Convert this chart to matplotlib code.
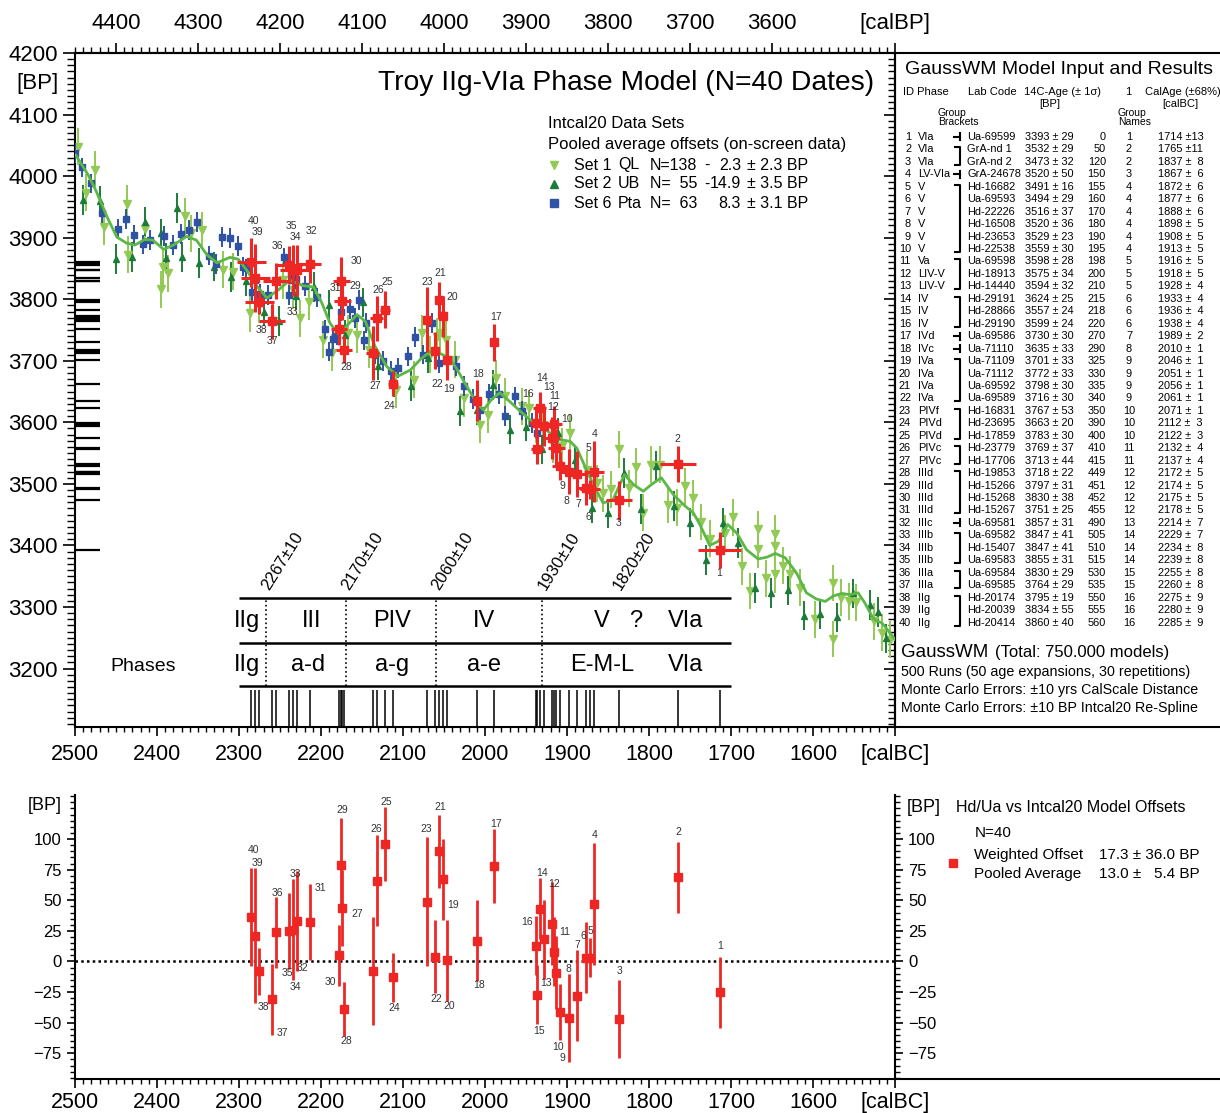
import matplotlib
matplotlib.use("Agg")
import matplotlib.pyplot as plt
from matplotlib.ticker import MultipleLocator, FixedLocator, FuncFormatter, NullFormatter

plt.rcParams['font.family'] = ['Liberation Sans', 'DejaVu Sans']

W, H = 1220, 1113

# ---- 40 Troy dates (table) ----
ids = list(range(1, 41))
phase = ['VIa', 'VIa', 'VIa', 'LV-VIa', 'V', 'V', 'V', 'V', 'V', 'V', 'Va', 'LIV-V', 'LIV-V',
         'IV', 'IV', 'IV', 'IVd', 'IVc', 'IVa', 'IVa', 'IVa', 'IVa', 'PIVf', 'PIVd', 'PIVd',
         'PIVc', 'PIVc', 'IIId', 'IIId', 'IIId', 'IIId', 'IIIc', 'IIIb', 'IIIb', 'IIIb',
         'IIIa', 'IIIa', 'IIg', 'IIg', 'IIg']
lab_code = ['Ua-69599', 'GrA-nd 1', 'GrA-nd 2', 'GrA-24678', 'Hd-16682', 'Ua-69593', 'Hd-22226',
            'Hd-16508', 'Hd-23653', 'Hd-22538', 'Ua-69598', 'Hd-18913', 'Hd-14440', 'Hd-29191',
            'Hd-28866', 'Hd-29190', 'Ua-69586', 'Ua-71110', 'Ua-71109', 'Ua-71112', 'Ua-69592',
            'Ua-69589', 'Hd-16831', 'Hd-23695', 'Hd-17859', 'Hd-23779', 'Hd-17706', 'Hd-19853',
            'Hd-15266', 'Hd-15268', 'Hd-15267', 'Ua-69581', 'Ua-69582', 'Hd-15407', 'Ua-69583',
            'Ua-69584', 'Ua-69585', 'Hd-20174', 'Hd-20039', 'Hd-20414']
c14 = [3393, 3532, 3473, 3520, 3491, 3494, 3516, 3520, 3529, 3559, 3598, 3575, 3594, 3624, 3557,
       3599, 3730, 3635, 3701, 3772, 3798, 3716, 3767, 3663, 3783, 3769, 3713, 3718, 3797, 3830,
       3751, 3857, 3847, 3847, 3855, 3830, 3764, 3795, 3834, 3860]
c14_err = [29, 29, 32, 50, 16, 29, 37, 36, 23, 30, 28, 34, 32, 25, 24, 24, 30, 33, 33, 33, 30, 30,
           53, 20, 30, 37, 44, 22, 31, 38, 25, 31, 41, 41, 31, 29, 29, 19, 55, 40]
dist = [0, 50, 120, 150, 155, 160, 170, 180, 190, 195, 198, 200, 210, 215, 218, 220, 270, 290, 325,
        330, 335, 340, 350, 390, 400, 410, 415, 449, 451, 452, 455, 490, 505, 510, 515, 530, 535,
        550, 555, 560]
group = [1, 2, 2, 3, 4, 4, 4, 4, 4, 4, 5, 5, 5, 6, 6, 6, 7, 8, 9, 9, 9, 9, 10, 10, 10, 11, 11,
         12, 12, 12, 12, 13, 14, 14, 14, 15, 15, 16, 16, 16]
cal = [1714, 1765, 1837, 1867, 1872, 1877, 1888, 1898, 1908, 1913, 1916, 1918, 1928, 1933, 1936,
       1938, 1989, 2010, 2046, 2051, 2056, 2061, 2071, 2112, 2122, 2132, 2137, 2172, 2174, 2175,
       2178, 2214, 2229, 2234, 2239, 2255, 2260, 2275, 2280, 2285]
cal_err = [13, 11, 8, 6, 6, 6, 6, 5, 5, 5, 5, 5, 4, 4, 4, 4, 2, 1, 1, 1, 1, 1, 1, 3, 3, 4, 4, 5,
           5, 5, 5, 7, 7, 8, 8, 8, 8, 9, 9, 9]
# offsets vs Intcal20 model (lower panel)
offset = [-25, 69, -47, 47, 3, 3, -28, -46, -41, -9, 8, 31, 18, 43, -27, 13, 78, 17, 1, 67, 90, 4,
          49, -13, 96, 66, -8, -39, 44, 79, 5, 32, 33, 26, 25, 24, -31, -8, 21, 36]

# ---- Intcal20 data sets ----
ql_cal = [2496, 2487, 2476, 2465, 2436, 2435, 2415, 2395, 2393, 2386, 2366, 2358, 2345, 2319, 2307,
          2287, 2276, 2258, 2246, 2234, 2226, 2215, 2197, 2187, 2167, 2156, 2142, 2108, 2087, 2077,
          2067, 2059, 2055, 2047, 2037, 2026, 2006, 1996, 1986, 1976, 1955, 1946, 1938, 1929, 1917,
          1906, 1896, 1876, 1864, 1856, 1846, 1836, 1825, 1816, 1807, 1797, 1787, 1777, 1766, 1756,
          1746, 1736, 1726, 1707, 1697, 1687, 1677, 1667, 1667, 1657, 1646, 1646, 1646, 1636, 1628,
          1616, 1597, 1576, 1576, 1566, 1556, 1547, 1526, 1516, 1506]
ql_bp = [4048, 3973, 4010, 3918, 3955, 3872, 3914, 3816, 3853, 3842, 3935, 3907, 3912, 3848, 3845,
         3777, 3791, 3764, 3831, 3815, 3769, 3796, 3734, 3713, 3745, 3742, 3718, 3653, 3669, 3745,
         3710, 3739, 3745, 3734, 3702, 3639, 3596, 3612, 3672, 3642, 3626, 3623, 3596, 3596, 3564,
         3561, 3583, 3523, 3501, 3485, 3491, 3556, 3493, 3528, 3453, 3531, 3531, 3466, 3461, 3496,
         3477, 3438, 3411, 3420, 3446, 3366, 3326, 3426, 3394, 3347, 3419, 3399, 3353, 3367, 3353,
         3331, 3280, 3339, 3248, 3315, 3309, 3308, 3277, 3258, 3247]
ql_err = 30

ub_cal = [2490, 2470, 2450, 2430, 2415, 2395, 2389, 2375, 2370, 2349, 2331, 2310, 2291, 2269, 2251,
          2230, 2209, 2190, 2171, 2149, 2130, 2111, 2090, 2070, 2030, 2010, 1990, 1970, 1950, 1930,
          1911, 1890, 1870, 1850, 1830, 1810, 1791, 1770, 1750, 1730, 1710, 1691, 1671, 1651, 1631,
          1611, 1591, 1571, 1551, 1530, 1521, 1511]
ub_bp = [3961, 3960, 3865, 3869, 3926, 3907, 3867, 3948, 3869, 3859, 3853, 3836, 3830, 3780, 3765,
         3806, 3820, 3791, 3742, 3795, 3692, 3665, 3659, 3704, 3618, 3620, 3661, 3588, 3593, 3556,
         3583, 3539, 3461, 3452, 3518, 3459, 3529, 3464, 3437, 3376, 3437, 3404, 3331, 3323, 3327,
         3286, 3288, 3283, 3322, 3303, 3292, 3249]
ub_err = 24

pta_cal = [2500, 2491, 2481, 2467, 2448, 2438, 2428, 2417, 2408, 2391, 2381, 2371, 2361, 2351, 2337,
           2328, 2321, 2311, 2301, 2295, 2291, 2284, 2280, 2274, 2265, 2245, 2239, 2236, 2230, 2220,
           2205, 2195, 2190, 2185, 2180, 2175, 2165, 2159, 2154, 2148, 2145, 2134, 2124, 2115, 2106,
           2094, 2085, 2075, 2065, 2056, 2045, 2035, 2025, 2015, 2006, 1995, 1983, 1975, 1964, 1955,
           1943, 1936]
pta_bp = [4037, 4014, 3988, 3940, 3914, 3930, 3905, 3889, 3896, 3903, 3888, 3906, 3912, 3925, 3871,
          3857, 3901, 3899, 3887, 3853, 3850, 3811, 3831, 3809, 3807, 3868, 3807, 3841, 3833, 3822,
          3803, 3751, 3715, 3735, 3741, 3780, 3784, 3769, 3799, 3733, 3761, 3710, 3700, 3683, 3688,
          3707, 3739, 3710, 3761, 3696, 3702, 3691, 3659, 3638, 3620, 3646, 3646, 3610, 3642, 3619,
          3599, 3583]
pta_err = 16

# ---- GaussWM / Intcal20 model curve ----
curve_cal = [2499, 2484, 2474, 2461, 2449, 2437, 2427, 2415, 2405, 2392, 2380, 2364, 2352, 2339,
             2327, 2311, 2301, 2291, 2278, 2266, 2252, 2238, 2222, 2209, 2199, 2189, 2179, 2169,
             2156, 2146, 2134, 2120, 2106, 2091, 2079, 2067, 2055, 2043, 2035, 2022, 2010, 2002,
             1992, 1982, 1970, 1957, 1945, 1933, 1921, 1909, 1896, 1888, 1878, 1868, 1856, 1844,
             1830, 1819, 1807, 1797, 1785, 1770, 1756, 1746, 1738, 1726, 1715, 1704, 1693, 1681,
             1667, 1656, 1646, 1634, 1620, 1608, 1596, 1585, 1575, 1565, 1555, 1545, 1537, 1526,
             1516, 1506, 1500]
curve_bp = [4034, 4002, 3975, 3934, 3901, 3891, 3888, 3897, 3896, 3881, 3888, 3902, 3896, 3872,
            3859, 3868, 3865, 3848, 3821, 3802, 3815, 3831, 3822, 3820, 3794, 3761, 3744, 3756,
            3775, 3764, 3723, 3691, 3675, 3685, 3702, 3715, 3712, 3704, 3688, 3658, 3631, 3620,
            3637, 3648, 3634, 3618, 3604, 3596, 3583, 3572, 3569, 3558, 3528, 3499, 3469, 3474,
            3515, 3499, 3488, 3499, 3510, 3482, 3464, 3453, 3434, 3400, 3407, 3434, 3420, 3393,
            3378, 3381, 3387, 3380, 3355, 3323, 3313, 3309, 3318, 3322, 3320, 3323, 3307, 3280,
            3274, 3258, 3247]

# ---- phase table ----
phase_bounds = [2267, 2170, 2060, 1930]
bound_labels = ['2267±10', '2170±10', '2060±10', '1930±10', '1820±20']
bound_label_cal = [2267, 2170, 2060, 1930, 1838]
phase_row1 = ['IIg', 'III', 'PIV', 'IV', 'V', '?', 'VIa']
phase_row1_cal = [2290, 2211, 2113, 2001, 1857, 1816, 1756]
phase_row2 = ['IIg', 'a-d', 'a-g', 'a-e', 'E-M-L', 'VIa']
phase_row2_cal = [2290, 2216, 2113, 2001, 1857, 1756]

# label placement (pixel offsets from each point)
main_lbl = {1: (0, 23), 2: (0, -25), 3: (0, 23), 4: (1, -38), 5: (-2, -41), 6: (3, 29), 7: (1, 30),
            8: (-2, 29), 9: (2, 20), 10: (11, -29), 11: (1, -28), 12: (1, -31), 13: (5, -39),
            14: (2, -30), 16: (-8, -29), 17: (2, -25), 18: (1, -27), 19: (2, 29), 20: (9, -19),
            21: (1, -27), 22: (2, 33), 23: (0, -38), 24: (-4, 22), 25: (2, -28), 26: (1, -28),
            27: (3, 33), 28: (2, 17), 29: (13, -15), 30: (15, -20), 31: (-4, -41), 32: (2, -33),
            33: (-5, 42), 34: (2, -33), 35: (2, -39), 36: (2, -35), 37: (1, 20), 38: (2, 28),
            39: (2, -46), 40: (2, -41)}
bot_lbl = {1: (1, -46), 2: (1, -45), 3: (1, -48), 4: (1, -69), 5: (0, -27), 6: (-2, -22),
           7: (0, -51), 8: (0, -49), 9: (2, 46), 10: (2, 74), 11: (11, -20), 12: (2, -40),
           13: (2, 44), 14: (2, -36), 15: (2, 36), 16: (-9, -24), 17: (2, -42), 18: (2, 44),
           19: (6, -55), 20: (6, 127), 21: (1, -44), 22: (1, 42), 23: (-1, -72), 24: (1, 31),
           25: (1, -42), 26: (-1, -52), 27: (-15, -57), 28: (2, 32), 29: (0, -98), 30: (-11, 117),
           31: (-19, -67), 32: (-7, 46), 33: (-2, -47), 34: (2, 57), 35: (-2, 42), 36: (2, -39),
           37: (11, 34), 38: (4, 36), 39: (2, -73), 40: (2, -67)}

c_ql = '#93C955'
c_ub = '#1D7B3A'
c_pta = '#2F52A3'
c_curve = '#5BB746'
c_red = '#EE2724'
PX = 0.72  # pixels -> points at 100 dpi


def fx(px):
    return px / W


def fy(py):
    return 1 - py / H


fig = plt.figure(figsize=(W / 100, H / 100), dpi=100)
ax = fig.add_axes([fx(75), fy(727), (895 - 75) / W, (727 - 53) / H])
axb = fig.add_axes([fx(75), fy(1079), (895 - 75) / W, (1079 - 795) / H])
tab = fig.add_axes([fx(895), fy(727), (1220 - 895) / W, (727 - 53) / H])
leg = fig.add_axes([fx(895), fy(1079), (1220 - 895) / W, (1079 - 795) / H])
for a in (tab, leg):
    a.axis('off')
tab.set_xlim(895, 1220)
tab.set_ylim(727, 53)
leg.set_xlim(895, 1220)
leg.set_ylim(1079, 795)

# ================= main panel =================
ax.set_xlim(2500, 1500)
ax.set_ylim(3105, 4200)
for s in ax.spines.values():
    s.set_linewidth(1.5)

ax.errorbar(ql_cal, ql_bp, yerr=ql_err, fmt='v', color=c_ql, ms=5.5, elinewidth=1.4,
            capsize=0, zorder=2)
ax.errorbar(ub_cal, ub_bp, yerr=ub_err, fmt='^', color=c_ub, ms=5, elinewidth=1.4,
            capsize=0, zorder=2)
ax.errorbar(pta_cal, pta_bp, yerr=pta_err, fmt='s', color=c_pta, ms=4.5, elinewidth=1.4,
            capsize=0, zorder=3)
ax.plot(curve_cal, curve_bp, color=c_curve, lw=2.0, zorder=4)
ax.errorbar(cal, c14, xerr=[2 * e for e in cal_err], yerr=c14_err, fmt='s', color=c_red,
            ms=6, elinewidth=2.2, capsize=0, zorder=6)
for i, x, y in zip(ids, cal, c14):
    if i in main_lbl:
        dx, dy = main_lbl[i]
        ax.annotate(str(i), (x, y), xytext=(dx * PX, -dy * PX), textcoords='offset points',
                    ha='center', va='center', fontsize=7.5, color='#333333', zorder=7)

# rugs
ax.hlines(c14, 2500, 2470, color='k', lw=1.6, zorder=5)
ax.vlines(cal, 3105, 3165, color='k', lw=1.1, zorder=5)

# phase table
ax.hlines([3315, 3242, 3172], 2300, 1700, color='k', lw=1.8, zorder=5)
ax.vlines(phase_bounds, 3172, 3315, color='k', lw=1.2, linestyles=':', zorder=5)
for lbl, x in zip(bound_labels, bound_label_cal):
    ax.text(x - 7, 3324, lbl, rotation=58, rotation_mode='anchor', ha='left', va='bottom',
            fontsize=12)
for lbl, x in zip(phase_row1, phase_row1_cal):
    ax.text(x, 3278, lbl, ha='center', va='center', fontsize=17)
for lbl, x in zip(phase_row2, phase_row2_cal):
    ax.text(x, 3206, lbl, ha='center', va='center', fontsize=17)
ax.text(2417, 3203, 'Phases', ha='center', va='center', fontsize=14)

# ticks
ax.xaxis.set_major_locator(MultipleLocator(100))
ax.xaxis.set_minor_locator(MultipleLocator(10))
ax.xaxis.set_major_formatter(FuncFormatter(lambda v, p: '[calBC]' if abs(v - 1500) < 1 else f'{v:.0f}'))
ax.yaxis.set_major_locator(MultipleLocator(100))
ax.yaxis.set_minor_locator(MultipleLocator(10))
ax.tick_params(axis='x', which='major', direction='out', length=6.5, width=1.2, labelsize=15.5, pad=6)
ax.tick_params(axis='x', which='minor', direction='out', length=3.8, width=1.0)
ax.tick_params(axis='y', which='major', direction='out', length=9, width=1.2, labelsize=16)
ax.tick_params(axis='y', which='minor', direction='out', length=5.5, width=1.0)

ry = ax.secondary_yaxis('right')
ry.yaxis.set_major_locator(MultipleLocator(100))
ry.yaxis.set_minor_locator(MultipleLocator(10))
ry.yaxis.set_major_formatter(NullFormatter())
ry.tick_params(which='major', direction='in', length=8, width=1.2)
ry.tick_params(which='minor', direction='in', length=5, width=1.0)
ry.spines['right'].set_linewidth(1.5)

tx = ax.secondary_xaxis('top', functions=(lambda x: x + 1950, lambda x: x - 1950))
tx.xaxis.set_major_locator(FixedLocator(list(range(3600, 4401, 100)) + [3450]))
tx.xaxis.set_minor_locator(MultipleLocator(10))
tx.xaxis.set_major_formatter(FuncFormatter(lambda v, p: '[calBP]' if abs(v - 3450) < 1 else f'{v:.0f}'))
tx.tick_params(which='major', direction='out', length=7, width=1.2, labelsize=16, pad=7)
tx.tick_params(which='minor', direction='out', length=4, width=1.0)
tx.spines['top'].set_linewidth(1.5)

fig.text(fx(37), fy(84), '[BP]', ha='center', va='center', fontsize=16)
fig.text(fx(874), fy(83), 'Troy IIg-VIa Phase Model (N=40 Dates)', ha='right', va='center',
         fontsize=20.3)

# intcal legend block
fig.text(fx(548), fy(124), 'Intcal20 Data Sets', va='center', fontsize=12)
fig.text(fx(548), fy(144), 'Pooled average offsets (on-screen data)', va='center', fontsize=12)
leg_rows = [('v', c_ql, 'Set 1', 'QL', 'N=138', '-', '2.3', '± 2.3 BP'),
            ('^', c_ub, 'Set 2', 'UB', 'N=  55', '-', '14.9', '± 3.5 BP'),
            ('s', c_pta, 'Set 6', 'Pta', 'N=  63', '', '8.3', '± 3.1 BP')]
for k, (m, c, s1, s2, n, sg, v, e) in enumerate(leg_rows):
    yy = fy(165 + k * 19)
    ax.plot([fx(554)], [yy], m, color=c, ms=5.5, transform=fig.transFigure, clip_on=False)
    fig.text(fx(574), yy, s1, va='center', fontsize=11.5)
    fig.text(fx(618), yy, s2, va='center', fontsize=11.5)
    fig.text(fx(650), yy, n, va='center', fontsize=11.5)
    fig.text(fx(704), yy, sg, va='center', fontsize=11.5)
    fig.text(fx(741), yy, v, va='center', ha='right', fontsize=11.5)
    fig.text(fx(747), yy, e, va='center', fontsize=11.5)

# ================= table panel =================
tab.plot([895, 1220], [53, 53], color='k', lw=1.5, clip_on=False)
tab.plot([895, 1220], [727, 727], color='k', lw=1.5, clip_on=False)
tab.text(905, 70, 'GaussWM Model Input and Results', va='center', fontsize=14)
hdr = 8
tab.text(903, 92, 'ID Phase', va='center', fontsize=hdr)
tab.text(968, 92, 'Lab Code', va='center', fontsize=hdr)
tab.text(1024, 92, '14C-Age (± 1σ)', va='center', fontsize=hdr)
tab.text(1128, 92, '1', va='center', ha='center', fontsize=hdr)
tab.text(1145, 92, 'CalAge (±68%)', va='center', fontsize=hdr)
tab.text(1050, 104, '[BP]', va='center', ha='center', fontsize=hdr)
tab.text(1180, 104, '[calBC]', va='center', ha='center', fontsize=hdr)
tab.text(938, 113, 'Group', va='center', fontsize=7.5)
tab.text(938, 122, 'Brackets', va='center', fontsize=7.5)
tab.text(1118, 113, 'Group', va='center', fontsize=7.5)
tab.text(1118, 122, 'Names', va='center', fontsize=7.5)

row_y = [137 + k * 12.45 for k in range(len(ids))]
fs = 7.9
for k in range(len(ids)):
    y = row_y[k]
    tab.text(911, y, str(ids[k]), ha='right', va='center', fontsize=fs)
    tab.text(918, y, phase[k], va='center', fontsize=fs)
    tab.text(967, y, lab_code[k], va='center', fontsize=fs)
    tab.text(1025, y, f'{c14[k]} ± {c14_err[k]}', va='center', fontsize=fs)
    tab.text(1106, y, str(dist[k]), ha='right', va='center', fontsize=fs)
    tab.text(1129, y, str(group[k]), ha='center', va='center', fontsize=fs)
    ce = f'{cal_err[k]}' if cal_err[k] >= 10 else f'  {cal_err[k]}'
    tab.text(1158, y, f'{cal[k]} ±{ce}', va='center', fontsize=fs)

# group brackets
for g in sorted(set(group)):
    rows = [k for k in range(len(group)) if group[k] == g]
    y0, y1 = row_y[rows[0]], row_y[rows[-1]]
    if len(rows) == 1:
        tab.plot([954, 959.5], [y0, y0], color='k', lw=1.5)
        tab.plot([959.5, 959.5], [y0 - 3.5, y0 + 3.5], color='k', lw=1.5)
    else:
        tab.plot([955, 959.5, 959.5, 955], [y0 - 2, y0 - 2, y1 + 3, y1 + 3], color='k', lw=1.5)

tab.text(901, 653, 'GaussWM', va='center', fontsize=13.5)
tab.text(995, 653, '(Total: 750.000 models)', va='center', fontsize=12)
tab.text(901, 672, '500 Runs (50 age expansions, 30 repetitions)', va='center', fontsize=10.3)
tab.text(901, 690, 'Monte Carlo Errors: ±10 yrs CalScale Distance', va='center', fontsize=10.3)
tab.text(901, 708, 'Monte Carlo Errors: ±10 BP Intcal20 Re-Spline', va='center', fontsize=10.3)

# ================= offsets panel =================
axb.set_xlim(2500, 1500)
axb.set_ylim(-96, 136)
axb.spines['top'].set_visible(False)
for s in ('left', 'right', 'bottom'):
    axb.spines[s].set_linewidth(1.5)
axb.axhline(0, color='k', ls=(0, (1, 1.3)), lw=1.8, zorder=1)
axb.errorbar(cal, offset, yerr=c14_err, fmt='s', color=c_red, ms=6, elinewidth=2.0,
             capsize=0, zorder=3)
for i, x, y in zip(ids, cal, offset):
    dx, dy = bot_lbl[i]
    axb.annotate(str(i), (x, y), xytext=(dx * PX, -dy * PX), textcoords='offset points',
                 ha='center', va='center', fontsize=7.5, color='#333333')

axb.xaxis.set_major_locator(MultipleLocator(100))
axb.xaxis.set_minor_locator(MultipleLocator(10))
axb.xaxis.set_major_formatter(FuncFormatter(lambda v, p: '[calBC]' if abs(v - 1500) < 1 else f'{v:.0f}'))
axb.yaxis.set_major_locator(FixedLocator([-75, -50, -25, 0, 25, 50, 75, 100]))
axb.yaxis.set_minor_locator(MultipleLocator(5))
axb.yaxis.set_ticks_position('both')
axb.tick_params(axis='x', which='major', direction='out', length=6.5, width=1.2, labelsize=15.5, pad=3)
axb.tick_params(axis='x', which='minor', direction='out', length=3.8, width=1.0)
axb.tick_params(axis='y', which='major', direction='out', length=6, width=1.2, labelsize=12,
                labelright=True)
axb.tick_params(axis='y', which='minor', direction='out', length=3.5, width=1.0)

fig.text(fx(45), fy(805), '[BP]', ha='center', va='center', fontsize=13)
fig.text(fx(907), fy(808), '[BP]', ha='left', va='center', fontsize=13)

leg.plot([895, 1220], [1079, 1079], color='k', lw=1.5, clip_on=False)
leg.text(956, 808, 'Hd/Ua vs Intcal20 Model Offsets', va='center', fontsize=11.5)
leg.text(975, 833, 'N=40', va='center', fontsize=11)
leg.plot([953], [863], 's', color=c_red, ms=6)
leg.text(974, 855, 'Weighted Offset', va='center', fontsize=11)
leg.text(974, 874, 'Pooled Average', va='center', fontsize=11)
leg.text(1099, 855, '17.3 ± 36.0 BP', va='center', fontsize=11)
leg.text(1099, 874, '13.0 ±   5.4 BP', va='center', fontsize=11)

fig.savefig('out.png', dpi=100)
